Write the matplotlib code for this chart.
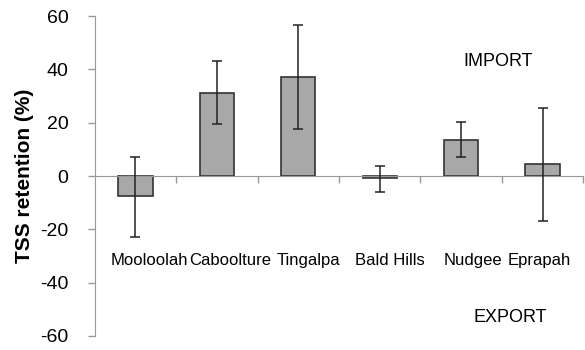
import matplotlib.pyplot as plt

plt.rcParams['font.family'] = ['Liberation Sans', 'DejaVu Sans']
plt.rcParams['axes.unicode_minus'] = False

sites = ['Mooloolah', 'Caboolture', 'Tingalpa', 'Bald Hills', 'Nudgee', 'Eprapah']
retention = [-7.5, 31.2, 37.0, -0.8, 13.6, 4.5]
err_upper = [7.1, 43.0, 56.5, 3.9, 20.2, 25.6]
err_lower = [-22.7, 19.5, 17.6, -5.9, 7.0, -16.8]

# site names were typed as one line in the original, so they sit off-centre
label_x = [0.17, 1.16, 2.13, 3.12, 4.15, 4.96]

x = list(range(len(sites)))
yerr = [[r - lo for r, lo in zip(retention, err_lower)],
        [hi - r for r, hi in zip(retention, err_upper)]]

fig = plt.figure(figsize=(5.85, 3.5), dpi=100)
ax = fig.add_axes([0.162, 0.04, 0.835, 0.914])

ax.bar(x, retention, width=0.42, color='#a8a8a8', edgecolor='#333333',
       linewidth=1.2, zorder=2)
ax.errorbar(x, retention, yerr=yerr, fmt='none', ecolor='#222222',
            elinewidth=1.1, capsize=3.5, capthick=1.1, zorder=3)

ax.set_xlim(-0.5, 5.5)
ax.set_ylim(-60, 60)
ax.set_yticks([-60, -40, -20, 0, 20, 40, 60])
ax.tick_params(axis='y', labelsize=14, length=5, color='#999999', width=1, pad=14)

for s in ['top', 'right']:
    ax.spines[s].set_visible(False)
ax.spines['left'].set_color('#999999')
ax.spines['bottom'].set_position(('data', 0))
ax.spines['bottom'].set_color('#999999')
ax.set_xticks([0.5, 1.5, 2.5, 3.5, 4.5, 5.5])
ax.set_xticklabels([])
ax.tick_params(axis='x', length=5, color='#999999', width=1)

for lx, name in zip(label_x, sites):
    ax.text(lx, -31.5, name, ha='center', va='center', fontsize=12)

ax.text(4.45, 43, 'IMPORT', ha='center', va='center', fontsize=13)
ax.text(4.6, -53, 'EXPORT', ha='center', va='center', fontsize=13)

ax.set_ylabel('TSS retention (%)', fontsize=15, fontweight='bold', labelpad=4)

fig.savefig('out.png')
